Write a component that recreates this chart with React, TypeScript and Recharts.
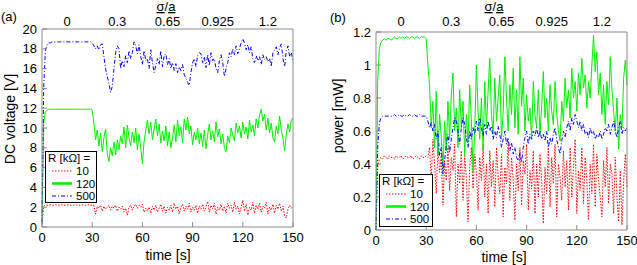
import React from "react";
import { LineChart, Line, XAxis, YAxis, Legend } from "recharts";

const FONT = "'Liberation Sans', Arial, Helvetica, sans-serif";
const FRAME = "#8a8a8a";

// one sample per second
const timeS = [
  0, 1, 2, 3, 4, 5, 6, 7, 8, 9, 10, 11, 12, 13, 14, 15, 16, 17, 18, 19,
  20, 21, 22, 23, 24, 25, 26, 27, 28, 29, 30, 31, 32, 33, 34, 35, 36, 37, 38, 39,
  40, 41, 42, 43, 44, 45, 46, 47, 48, 49, 50, 51, 52, 53, 54, 55, 56, 57, 58, 59,
  60, 61, 62, 63, 64, 65, 66, 67, 68, 69, 70, 71, 72, 73, 74, 75, 76, 77, 78, 79,
  80, 81, 82, 83, 84, 85, 86, 87, 88, 89, 90, 91, 92, 93, 94, 95, 96, 97, 98, 99,
  100, 101, 102, 103, 104, 105, 106, 107, 108, 109, 110, 111, 112, 113, 114, 115, 116, 117, 118, 119,
  120, 121, 122, 123, 124, 125, 126, 127, 128, 129, 130, 131, 132, 133, 134, 135, 136, 137, 138, 139,
  140, 141, 142, 143, 144, 145, 146, 147, 148, 149, 150,
];

// (a) DC voltage [V]
const voltR10 = [
  0.3, 2.1, 2.2, 2.2, 2.2, 2.25, 2.2, 2.2, 2.25, 2.2,
  2.2, 2.2, 2.25, 2.2, 2.2, 2.2, 2.25, 2.2, 2.2, 2.2,
  2.25, 2.2, 2.2, 2.2, 2.25, 2.2, 2.2, 2.2, 2.25, 2.2,
  2.2, 2.2, 1.3, 2.1, 1.9, 2.2, 1.6, 2.1, 1.8, 2.0,
  2.2, 1.7, 2.1, 1.9, 2.2, 1.6, 2.0, 1.8, 2.1, 1.5,
  1.9, 1.2, 2.0, 2.2, 1.7, 2.1, 2.3, 1.9, 2.2, 2.0,
  2.3, 1.5, 1.9, 1.6, 2.0, 1.4, 2.1, 1.7, 2.2, 1.5,
  1.9, 2.3, 1.6, 2.1, 1.4, 2.0, 1.7, 2.2, 1.5, 2.4,
  1.8, 2.1, 1.3, 2.0, 2.3, 1.6, 2.1, 1.8, 2.4, 1.5,
  2.0, 1.7, 2.2, 1.4, 2.1, 1.8, 2.3, 1.6, 2.0, 2.6,
  1.5, 2.2, 1.8, 2.4, 1.3, 2.0, 1.7, 2.3, 1.6, 2.1,
  1.4, 2.4, 1.9, 2.2, 1.5, 2.5, 1.8, 2.1, 1.3, 2.0,
  2.7, 1.6, 2.3, 1.2, 2.0, 1.7, 2.5, 1.4, 2.2, 1.8,
  2.4, 1.5, 2.1, 1.9, 2.5, 1.3, 2.0, 1.7, 2.3, 1.4,
  2.2, 1.8, 2.4, 1.6, 2.1, 1.1, 0.9, 1.8, 2.2, 1.9,
  2.1,
];
const voltR120 = [
  0.5, 10.5, 11.6, 11.8, 11.9, 11.9, 11.9, 11.9, 11.9, 11.9,
  11.9, 11.9, 11.9, 11.9, 11.9, 11.9, 11.9, 11.9, 11.9, 11.9,
  11.9, 11.9, 11.9, 11.9, 11.9, 11.9, 11.9, 11.9, 11.9, 11.9,
  11.8, 10.5, 8.8, 9.8, 8.2, 9.5, 7.6, 9.0, 9.9, 7.4,
  6.6, 8.0, 7.2, 8.6, 7.3, 8.8, 7.8, 9.2, 8.4, 10.1,
  8.0, 10.3, 9.0, 8.2, 9.6, 8.5, 10.0, 7.8, 9.4, 8.0,
  6.4, 8.6, 9.8, 10.8, 9.4, 10.6, 8.8, 9.9, 10.9, 9.2,
  10.4, 8.5, 9.7, 8.7, 10.2, 8.2, 9.6, 8.0, 9.0, 10.3,
  8.6, 10.8, 9.2, 10.1, 8.5, 10.9, 9.8, 11.1, 9.4, 10.2,
  8.3, 9.6, 8.8, 10.0, 8.4, 9.5, 8.1, 9.8, 7.9, 9.3,
  10.4, 8.8, 9.7, 8.6, 10.6, 9.1, 9.9, 8.4, 9.4, 8.0,
  7.6, 9.2, 8.5, 10.0, 9.3, 8.7, 10.5, 9.5, 10.2, 9.0,
  10.6, 9.4, 10.1, 8.9, 10.8, 9.6, 10.3, 9.2, 10.9, 10.0,
  11.3, 11.9, 10.7, 11.4, 9.8, 11.0, 9.5, 10.5, 9.0, 8.6,
  10.2, 9.4, 11.2, 9.8, 8.9, 7.7, 9.3, 10.4, 9.6, 10.8,
  11.0,
];
const voltR500 = [
  0.5, 14.0, 17.8, 18.4, 18.6, 18.6, 18.7, 18.7, 18.7, 18.7,
  18.7, 18.7, 18.7, 18.7, 18.7, 18.7, 18.7, 18.7, 18.7, 18.7,
  18.7, 18.7, 18.7, 18.7, 18.7, 18.7, 18.7, 18.7, 18.7, 18.7,
  18.6, 18.3, 18.0, 18.3, 17.9, 18.4, 18.5, 17.2, 16.0, 15.2,
  14.5, 13.6, 14.2, 16.0, 17.6, 18.3, 18.0, 16.0, 16.8, 16.2,
  17.3, 16.6, 17.8, 17.0, 17.6, 18.7, 18.3, 17.5, 18.4, 17.2,
  16.4, 17.8, 16.8, 17.0, 16.0, 17.9, 16.6, 15.6, 16.3, 17.0,
  16.4, 17.8, 16.2, 17.3, 17.5, 16.4, 17.0, 16.0, 16.6, 15.8,
  16.5, 15.6, 16.2, 15.8, 16.4, 15.4, 15.0, 14.6, 14.3, 15.6,
  16.6, 17.0, 16.2, 17.3, 17.6, 17.5, 16.6, 17.2, 16.1, 17.4,
  16.3, 17.6, 16.8, 17.0, 16.0, 15.6, 16.8, 17.4, 16.6, 15.2,
  16.0, 16.6, 17.6, 17.2, 18.0, 17.4, 18.3, 17.5, 18.0, 18.6,
  19.0, 18.6, 17.9, 18.4, 17.6, 18.2, 17.0, 16.6, 17.3, 16.8,
  17.2, 16.4, 17.4, 16.9, 17.2, 16.7, 17.0, 16.2, 17.6, 17.8,
  18.2, 17.4, 18.1, 18.5, 17.0, 16.2, 17.8, 18.3, 17.2, 17.6,
  16.8,
];

// (b) power [mW]
const powerR10 = [
  0, 0.38, 0.43, 0.44, 0.43, 0.45, 0.44, 0.43, 0.45, 0.44,
  0.44, 0.43, 0.45, 0.44, 0.44, 0.45, 0.43, 0.44, 0.45, 0.44,
  0.44, 0.45, 0.43, 0.44, 0.45, 0.44, 0.43, 0.45, 0.44, 0.44,
  0.45, 0.44, 0.5, 0.3, 0.55, 0.4, 0.22, 0.5, 0.35, 0.45,
  0.15, 0.42, 0.3, 0.5, 0.24, 0.44, 0.36, 0.52, 0.08, 0.4,
  0.28, 0.48, 0.18, 0.45, 0.32, 0.05, 0.38, 0.5, 0.25, 0.46,
  0.35, 0.12, 0.44, 0.3, 0.52, 0.2, 0.4, 0.1, 0.48, 0.26,
  0.42, 0.14, 0.5, 0.32, 0.22, 0.46, 0.08, 0.38, 0.28, 0.54,
  0.18, 0.44, 0.3, 0.06, 0.4, 0.24, 0.5, 0.15, 0.42, 0.34,
  0.52, 0.12, 0.36, 0.25, 0.48, 0.1, 0.4, 0.2, 0.46, 0.3,
  0.04, 0.38, 0.22, 0.5, 0.14, 0.44, 0.28, 0.52, 0.08, 0.4,
  0.32, 0.18, 0.48, 0.26, 0.42, 0.12, 0.5, 0.2, 0.38, 0.55,
  0.1, 0.36, 0.24, 0.5, 0.16, 0.44, 0.3, 0.06, 0.4, 0.22,
  0.52, 0.14, 0.46, 0.3, 0.2, 0.08, 0.42, 0.26, 0.5, 0.16,
  0.4, 0.34, 0.1, 0.44, 0.2, 0.05, 0.36, 0.03, 0.3, 0.46,
  0.26,
];
const powerR120 = [
  0, 0.9, 1.1, 1.14, 1.15, 1.16, 1.15, 1.16, 1.16, 1.15,
  1.16, 1.17, 1.16, 1.16, 1.17, 1.16, 1.17, 1.16, 1.17, 1.17,
  1.16, 1.17, 1.17, 1.16, 1.17, 1.17, 1.16, 1.17, 1.17, 1.17,
  1.16, 1.0, 0.88, 0.62, 0.78, 0.5, 0.84, 0.45, 0.7, 0.56,
  0.36, 0.66, 0.48, 0.78, 0.55, 0.82, 0.95, 0.6, 0.74, 0.5,
  0.85, 0.62, 0.78, 0.45, 0.7, 0.53, 0.88, 0.66, 0.35, 0.6,
  1.0, 0.72, 0.55, 0.8, 0.48, 0.9, 0.62, 0.84, 1.04, 0.7,
  0.58, 0.92, 0.66, 0.8, 0.94, 0.55, 0.72, 1.05, 0.8, 0.6,
  0.88, 0.7, 0.98, 0.62, 0.85, 0.58, 1.05, 0.75, 0.92, 0.6,
  0.82, 0.66, 0.74, 0.56, 0.9, 0.7, 0.62, 0.85, 0.58, 0.75,
  0.96, 0.68, 0.8, 0.6, 0.88, 0.72, 0.64, 0.9, 0.7, 0.6,
  0.54, 0.78, 0.66, 0.92, 0.74, 0.85, 0.68, 0.98, 0.8, 0.9,
  0.72, 0.95, 0.82, 1.04, 0.86, 0.94, 0.74, 0.9, 0.8, 1.0,
  1.18, 0.96, 1.08, 0.82, 0.95, 0.7, 0.88, 0.64, 0.9, 0.76,
  1.05, 0.85, 0.72, 0.6, 0.8, 0.49, 0.7, 0.62, 0.92, 1.03,
  0.88,
];
const powerR500 = [
  0, 0.5, 0.65, 0.68, 0.69, 0.69, 0.69, 0.69, 0.69, 0.69,
  0.69, 0.7, 0.69, 0.69, 0.7, 0.69, 0.69, 0.7, 0.69, 0.69,
  0.7, 0.69, 0.69, 0.7, 0.69, 0.69, 0.7, 0.69, 0.69, 0.69,
  0.69, 0.66, 0.62, 0.65, 0.6, 0.64, 0.55, 0.6, 0.45, 0.5,
  0.34, 0.42, 0.52, 0.58, 0.47, 0.55, 0.62, 0.68, 0.66, 0.6,
  0.52, 0.62, 0.68, 0.64, 0.56, 0.5, 0.6, 0.55, 0.62, 0.58,
  0.66, 0.6, 0.68, 0.62, 0.57, 0.64, 0.58, 0.66, 0.6, 0.63,
  0.55, 0.6, 0.56, 0.63, 0.58, 0.5, 0.55, 0.6, 0.52, 0.56,
  0.48, 0.53, 0.46, 0.5, 0.44, 0.42, 0.47, 0.41, 0.5, 0.56,
  0.6, 0.52, 0.58, 0.55, 0.6, 0.57, 0.62, 0.56, 0.6, 0.55,
  0.58, 0.54, 0.6, 0.5, 0.56, 0.52, 0.58, 0.62, 0.55, 0.5,
  0.46, 0.54, 0.6, 0.56, 0.62, 0.66, 0.6, 0.68, 0.64, 0.7,
  0.66, 0.62, 0.66, 0.6, 0.64, 0.58, 0.6, 0.56, 0.62, 0.58,
  0.6, 0.55, 0.58, 0.56, 0.6, 0.55, 0.58, 0.62, 0.6, 0.64,
  0.58, 0.62, 0.66, 0.6, 0.56, 0.62, 0.66, 0.58, 0.62, 0.6,
  0.62,
];

const seriesNames = ["10", "120", "500"];
const timeTicks = [0, 30, 60, 90, 120, 150];
const sigmaMarks = [30, 60, 90, 120];
const sigmaLabelPos = [15, 45, 75, 105, 135];
const sigmaLabels = ["0", "0.3", "0.65", "0.925", "1.2"];
const voltTicks = [0, 2, 4, 6, 8, 10, 12, 14, 16, 18, 20];
const powerTicks = [0, 0.2, 0.4, 0.6, 0.8, 1, 1.2];

const voltRows = timeS.map((t, i) => ({
  t,
  r10: voltR10[i],
  r120: voltR120[i],
  r500: voltR500[i],
}));
const powerRows = timeS.map((t, i) => ({
  t,
  r10: powerR10[i],
  r120: powerR120[i],
  r500: powerR500[i],
}));

const seriesStyle = [
  { key: "r10", color: "#ff0000", dash: "1.5 1.5", legendWidth: 1 },
  { key: "r120", color: "#00ee00", dash: undefined, legendWidth: 2.5 },
  { key: "r500", color: "#0000ff", dash: "4 2 1 2", legendWidth: 1 },
];

const tickText = { fontSize: 13, fill: "#000", fontFamily: FONT };

function RLegend({ payload, w, h }: any) {
  return (
    <svg width={w} height={h} style={{ display: "block" }}>
      <rect x={0.5} y={0.5} width={w - 1} height={h - 1} fill="#fff" stroke="#000" />
      <text x={3} y={11} fontSize={11.5} fontFamily={FONT} fill="#000">
        R [kΩ] =
      </text>
      {(payload || []).map((p: any, i: number) => {
        const s = seriesStyle[i];
        const y = 20 + i * 12.5;
        return (
          <g key={i}>
            <line x1={7} x2={27} y1={y} y2={y} stroke={s.color} strokeWidth={s.legendWidth} strokeDasharray={s.dash} />
            <text x={31} y={y + 4} fontSize={11.5} fontFamily={FONT} fill="#000">
              {p.value}
            </text>
          </g>
        );
      })}
    </svg>
  );
}

// axes are 1px thick so recharts still draws them; margins are reduced to match
function Panel(props: any) {
  const { left, width, margin, rows, yMax, yTicks, sigmaGap, legend, tag, tagPos, yLabel, yLabelPos, sigmaX, xLabelPos } = props;
  return (
    <div style={{ position: "absolute", left, top: 0, width, height: 265 }}>
      <LineChart width={width} height={265} data={rows} margin={margin}>
        <XAxis
          dataKey="t"
          type="number"
          domain={[0, 150]}
          ticks={timeTicks}
          interval={0}
          height={1}
          tickSize={-5}
          tickMargin={11}
          stroke={FRAME}
          tick={tickText}
        />
        <XAxis
          xAxisId="marks"
          orientation="top"
          type="number"
          domain={[0, 150]}
          ticks={sigmaMarks}
          interval={0}
          height={1}
          tickSize={-5}
          tick={false}
          stroke={FRAME}
        />
        <XAxis
          xAxisId="sigma"
          orientation="top"
          type="number"
          domain={[0, 150]}
          ticks={sigmaLabelPos}
          interval={0}
          height={1}
          tickSize={0}
          tickMargin={sigmaGap}
          tickLine={false}
          axisLine={false}
          tick={tickText}
          tickFormatter={(v: number) => sigmaLabels[sigmaLabelPos.indexOf(v)]}
        />
        <YAxis
          type="number"
          domain={[0, yMax]}
          ticks={yTicks}
          interval={0}
          width={1}
          tickSize={-5}
          tickMargin={10}
          stroke={FRAME}
          tick={tickText}
        />
        <YAxis
          yAxisId="mirror"
          orientation="right"
          type="number"
          domain={[0, yMax]}
          ticks={yTicks}
          interval={0}
          width={1}
          tickSize={-5}
          tick={false}
          stroke={FRAME}
        />
        <Legend
          layout="horizontal"
          align="center"
          verticalAlign="middle"
          wrapperStyle={{ left: legend.x, top: legend.y, width: legend.w, height: legend.h, lineHeight: 0 }}
          content={(p: any) => <RLegend payload={p.payload} w={legend.w} h={legend.h} />}
        />
        {seriesStyle.map((s, i) => (
          <Line
            key={s.key}
            dataKey={s.key}
            name={seriesNames[i]}
            stroke={s.color}
            strokeWidth={1}
            strokeDasharray={s.dash}
            dot={false}
            activeDot={false}
            isAnimationActive={false}
          />
        ))}
      </LineChart>
      <svg
        width={width}
        height={265}
        style={{ position: "absolute", left: 0, top: 0, pointerEvents: "none", overflow: "visible" }}
        fontFamily={FONT}
      >
        <text x={tagPos[0]} y={tagPos[1]} fontSize={13} fill="#000">
          {tag}
        </text>
        <text x={sigmaX} y={11} fontSize={13} fill="#000" textAnchor="middle">
          <tspan style={{ textDecoration: "underline" }}>σ</tspan>/<tspan style={{ textDecoration: "underline" }}>a</tspan>
        </text>
        <text
          x={yLabelPos[0]}
          y={yLabelPos[1]}
          fontSize={14}
          fill="#000"
          textAnchor="middle"
          transform={`rotate(-90 ${yLabelPos[0]} ${yLabelPos[1]})`}
        >
          {yLabel}
        </text>
        <text x={xLabelPos[0]} y={xLabelPos[1]} fontSize={14} fill="#000" textAnchor="middle">
          time [s]
        </text>
      </svg>
    </div>
  );
}

export default function App() {
  return (
    <div style={{ position: "absolute", left: 0, top: 0, width: 637, height: 265, background: "#fff" }}>
      <Panel
        left={0}
        width={318}
        margin={{ top: 27, right: 24, bottom: 37, left: 41 }}
        rows={voltRows}
        yMax={20}
        yTicks={voltTicks}
        sigmaGap={2}
        legend={{ x: 45, y: 151, w: 52, h: 52 }}
        tag="(a)"
        tagPos={[1, 21]}
        yLabel="DC voltage [V]"
        yLabelPos={[15, 119]}
        sigmaX={166}
        xLabelPos={[168, 260]}
      />
      <Panel
        left={318}
        width={319}
        margin={{ top: 30, right: 9, bottom: 34, left: 57 }}
        rows={powerRows}
        yMax={1.2}
        yTicks={powerTicks}
        sigmaGap={5}
        legend={{ x: 61, y: 174, w: 54, h: 53 }}
        tag="(b)"
        tagPos={[12, 22]}
        yLabel="power [mW]"
        yLabelPos={[24.5, 116]}
        sigmaX={176}
        xLabelPos={[186, 262]}
      />
    </div>
  );
}
